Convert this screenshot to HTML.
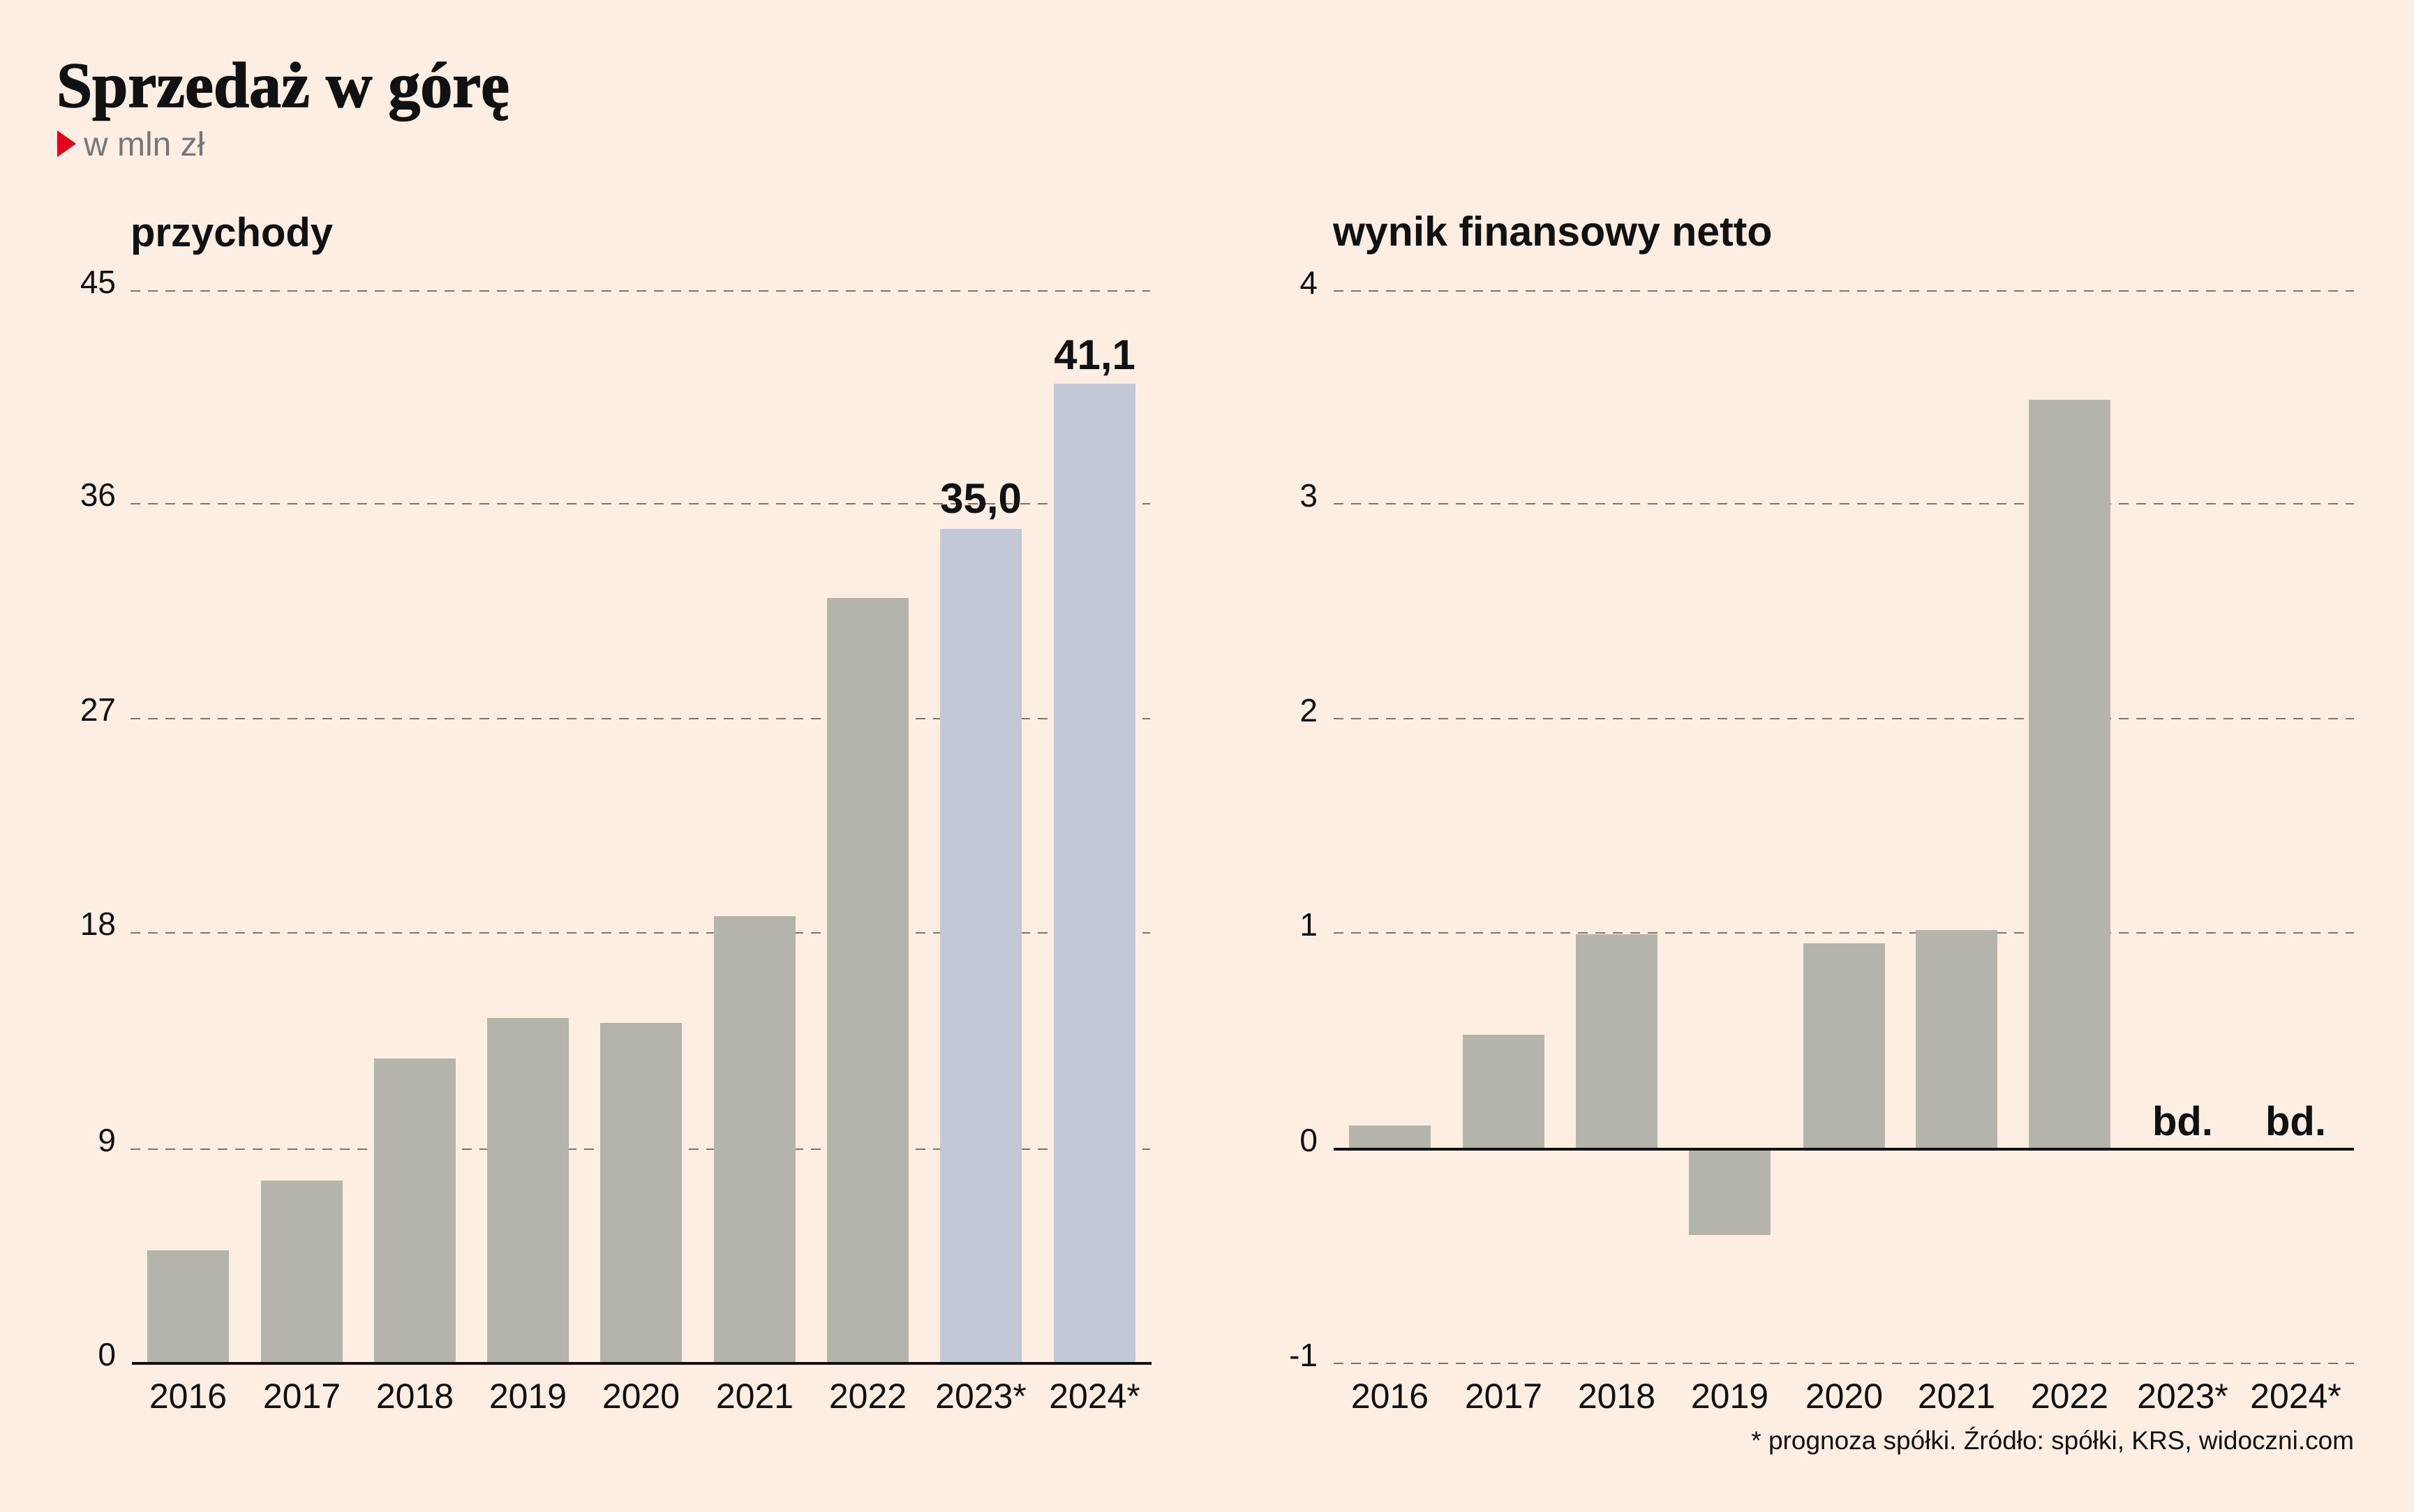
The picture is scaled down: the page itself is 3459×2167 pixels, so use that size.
<!DOCTYPE html>
<html>
<head>
<meta charset="utf-8">
<style>
html,body{margin:0;padding:0;background:#FCEEE2;}
svg{display:block;}
.ax{font-family:"Liberation Sans",sans-serif;font-size:46px;fill:#111;}
.yr{font-family:"Liberation Sans",sans-serif;font-size:50px;fill:#111;text-anchor:middle;}
.hd{font-family:"Liberation Sans",sans-serif;font-size:58px;font-weight:bold;fill:#111;}
.val{font-family:"Liberation Sans",sans-serif;font-size:60px;font-weight:bold;fill:#111;text-anchor:middle;}
.grid{stroke:#7d7670;stroke-width:2;stroke-dasharray:14 11;}
</style>
</head>
<body>
<svg width="3459" height="2167" viewBox="0 0 3459 2167" xmlns="http://www.w3.org/2000/svg">
<rect x="0" y="0" width="3459" height="2167" fill="#FCEEE2"/>

<!-- Title -->
<text x="81" y="153" font-family="Liberation Serif, serif" font-size="92" font-weight="bold" fill="#111" stroke="#111" stroke-width="1.5">Sprzedaż w górę</text>
<polygon points="82,187 109,206 82,225" fill="#E2001A"/>
<text x="120" y="223" font-family="Liberation Sans, sans-serif" font-size="48" fill="#777">w mln zł</text>

<!-- LEFT CHART -->
<text class="hd" x="187" y="353">przychody</text>
<g class="grid">
<line x1="187" y1="417" x2="1648" y2="417"/>
<line x1="187" y1="722" x2="1648" y2="722"/>
<line x1="187" y1="1030" x2="1648" y2="1030"/>
<line x1="187" y1="1337" x2="1648" y2="1337"/>
<line x1="187" y1="1647" x2="1648" y2="1647"/>
</g>
<g class="ax" text-anchor="end">
<text x="166" y="420">45</text>
<text x="166" y="725">36</text>
<text x="166" y="1033">27</text>
<text x="166" y="1340">18</text>
<text x="166" y="1650">9</text>
<text x="166" y="1957">0</text>
</g>
<g fill="#B4B4AB">
<rect x="211" y="1792" width="117" height="162"/>
<rect x="374" y="1692" width="117" height="262"/>
<rect x="536" y="1517" width="117" height="437"/>
<rect x="698" y="1459" width="117" height="495"/>
<rect x="860" y="1466" width="117" height="488"/>
<rect x="1023" y="1313" width="117" height="641"/>
<rect x="1185" y="857" width="117" height="1097"/>
</g>
<g fill="#C1C8D7">
<rect x="1347" y="758" width="117" height="1196"/>
<rect x="1510" y="550" width="117" height="1404"/>
</g>
<rect x="189" y="1952" width="1461" height="4" fill="#111"/>
<text class="val" x="1405.5" y="735">35,0</text>
<text class="val" x="1568.5" y="529">41,1</text>
<g class="yr">
<text x="269.5" y="2018">2016</text>
<text x="432.5" y="2018">2017</text>
<text x="594.5" y="2018">2018</text>
<text x="756.5" y="2018">2019</text>
<text x="918.5" y="2018">2020</text>
<text x="1081.5" y="2018">2021</text>
<text x="1243.5" y="2018">2022</text>
<text x="1405.5" y="2018">2023*</text>
<text x="1568.5" y="2018">2024*</text>
</g>

<!-- RIGHT CHART -->
<text class="hd" x="1910" y="352" style="font-size:59px">wynik finansowy netto</text>
<g class="grid">
<line x1="1911" y1="417" x2="3373" y2="417"/>
<line x1="1911" y1="722" x2="3373" y2="722"/>
<line x1="1911" y1="1030" x2="3373" y2="1030"/>
<line x1="1911" y1="1337" x2="3373" y2="1337"/>
<line x1="1911" y1="1954" x2="3373" y2="1954"/>
</g>
<g class="ax" text-anchor="end">
<text x="1888" y="421">4</text>
<text x="1888" y="726">3</text>
<text x="1888" y="1034">2</text>
<text x="1888" y="1341">1</text>
<text x="1888" y="1650">0</text>
<text x="1888" y="1958">-1</text>
</g>
<g fill="#B4B4AB">
<rect x="1933" y="1613" width="117" height="34"/>
<rect x="2096" y="1483" width="117" height="164"/>
<rect x="2258" y="1339" width="117" height="308"/>
<rect x="2420" y="1647" width="117" height="123"/>
<rect x="2584" y="1352" width="117" height="295"/>
<rect x="2745" y="1333" width="117" height="314"/>
<rect x="2907" y="573" width="117" height="1074"/>
</g>
<rect x="1911" y="1645" width="1462" height="4" fill="#111"/>
<text class="val" x="3127.5" y="1627" style="font-size:58px">bd.</text>
<text class="val" x="3289.5" y="1627" style="font-size:58px">bd.</text>
<g class="yr">
<text x="1991.5" y="2018">2016</text>
<text x="2154.5" y="2018">2017</text>
<text x="2316.5" y="2018">2018</text>
<text x="2478.5" y="2018">2019</text>
<text x="2642.5" y="2018">2020</text>
<text x="2803.5" y="2018">2021</text>
<text x="2965.5" y="2018">2022</text>
<text x="3127.5" y="2018">2023*</text>
<text x="3289.5" y="2018">2024*</text>
</g>

<text x="3373" y="2077" text-anchor="end" font-family="Liberation Sans, sans-serif" font-size="37" fill="#111">* prognoza spółki. Źródło: spółki, KRS, widoczni.com</text>
</svg>
</body>
</html>
